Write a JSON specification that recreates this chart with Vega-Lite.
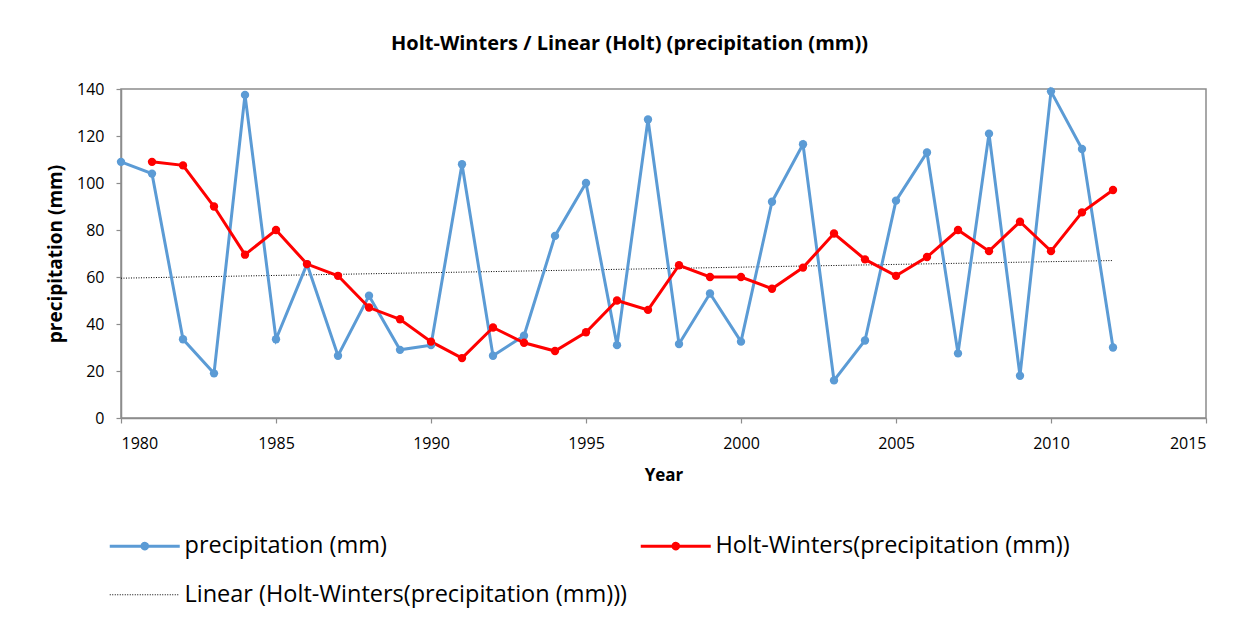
{
  "$schema": "https://vega.github.io/schema/vega-lite/v6.json",
  "width": 1085,
  "height": 329,
  "autosize": {"type": "none"},
  "padding": {"left": 121, "top": 89, "right": 53, "bottom": 209},
  "background": "white",
  "title": {
    "text": "Holt-Winters / Linear (Holt) (precipitation (mm))",
    "font": "Open Sans",
    "fontSize": 20,
    "fontWeight": "bold",
    "color": "#000000",
    "anchor": "middle",
    "dx": -34,
    "offset": 27
  },
  "config": {
    "view": {"stroke": "#8c8c8c", "strokeWidth": 1.5},
    "axis": {
      "labelFont": "Open Sans",
      "labelFontSize": 16,
      "labelColor": "#000000",
      "titleFont": "Open Sans",
      "titleFontWeight": "bold",
      "titleColor": "#000000",
      "domainColor": "#8c8c8c",
      "domainWidth": 1.5,
      "tickColor": "#8c8c8c",
      "tickWidth": 1.2,
      "tickSize": 5,
      "grid": false
    }
  },
  "data": {
    "values": [
      {"year": 1980, "value": 109, "series": "precipitation (mm)"},
      {"year": 1981, "value": 104, "series": "precipitation (mm)"},
      {"year": 1982, "value": 33.5, "series": "precipitation (mm)"},
      {"year": 1983, "value": 19, "series": "precipitation (mm)"},
      {"year": 1984, "value": 137.5, "series": "precipitation (mm)"},
      {"year": 1985, "value": 33.5, "series": "precipitation (mm)"},
      {"year": 1986, "value": 65.5, "series": "precipitation (mm)"},
      {"year": 1987, "value": 26.5, "series": "precipitation (mm)"},
      {"year": 1988, "value": 52, "series": "precipitation (mm)"},
      {"year": 1989, "value": 29, "series": "precipitation (mm)"},
      {"year": 1990, "value": 31, "series": "precipitation (mm)"},
      {"year": 1991, "value": 108, "series": "precipitation (mm)"},
      {"year": 1992, "value": 26.5, "series": "precipitation (mm)"},
      {"year": 1993, "value": 35, "series": "precipitation (mm)"},
      {"year": 1994, "value": 77.5, "series": "precipitation (mm)"},
      {"year": 1995, "value": 100, "series": "precipitation (mm)"},
      {"year": 1996, "value": 31, "series": "precipitation (mm)"},
      {"year": 1997, "value": 127, "series": "precipitation (mm)"},
      {"year": 1998, "value": 31.5, "series": "precipitation (mm)"},
      {"year": 1999, "value": 53, "series": "precipitation (mm)"},
      {"year": 2000, "value": 32.5, "series": "precipitation (mm)"},
      {"year": 2001, "value": 92, "series": "precipitation (mm)"},
      {"year": 2002, "value": 116.5, "series": "precipitation (mm)"},
      {"year": 2003, "value": 16, "series": "precipitation (mm)"},
      {"year": 2004, "value": 33, "series": "precipitation (mm)"},
      {"year": 2005, "value": 92.5, "series": "precipitation (mm)"},
      {"year": 2006, "value": 113, "series": "precipitation (mm)"},
      {"year": 2007, "value": 27.5, "series": "precipitation (mm)"},
      {"year": 2008, "value": 121, "series": "precipitation (mm)"},
      {"year": 2009, "value": 18, "series": "precipitation (mm)"},
      {"year": 2010, "value": 139, "series": "precipitation (mm)"},
      {"year": 2011, "value": 114.5, "series": "precipitation (mm)"},
      {"year": 2012, "value": 30, "series": "precipitation (mm)"},
      {"year": 1981, "value": 109, "series": "Holt-Winters(precipitation (mm))"},
      {"year": 1982, "value": 107.5, "series": "Holt-Winters(precipitation (mm))"},
      {"year": 1983, "value": 90, "series": "Holt-Winters(precipitation (mm))"},
      {"year": 1984, "value": 69.5, "series": "Holt-Winters(precipitation (mm))"},
      {"year": 1985, "value": 80, "series": "Holt-Winters(precipitation (mm))"},
      {"year": 1986, "value": 65.5, "series": "Holt-Winters(precipitation (mm))"},
      {"year": 1987, "value": 60.5, "series": "Holt-Winters(precipitation (mm))"},
      {"year": 1988, "value": 47, "series": "Holt-Winters(precipitation (mm))"},
      {"year": 1989, "value": 42, "series": "Holt-Winters(precipitation (mm))"},
      {"year": 1990, "value": 32.5, "series": "Holt-Winters(precipitation (mm))"},
      {"year": 1991, "value": 25.5, "series": "Holt-Winters(precipitation (mm))"},
      {"year": 1992, "value": 38.5, "series": "Holt-Winters(precipitation (mm))"},
      {"year": 1993, "value": 32, "series": "Holt-Winters(precipitation (mm))"},
      {"year": 1994, "value": 28.5, "series": "Holt-Winters(precipitation (mm))"},
      {"year": 1995, "value": 36.5, "series": "Holt-Winters(precipitation (mm))"},
      {"year": 1996, "value": 50, "series": "Holt-Winters(precipitation (mm))"},
      {"year": 1997, "value": 46, "series": "Holt-Winters(precipitation (mm))"},
      {"year": 1998, "value": 65, "series": "Holt-Winters(precipitation (mm))"},
      {"year": 1999, "value": 60, "series": "Holt-Winters(precipitation (mm))"},
      {"year": 2000, "value": 60, "series": "Holt-Winters(precipitation (mm))"},
      {"year": 2001, "value": 55, "series": "Holt-Winters(precipitation (mm))"},
      {"year": 2002, "value": 64, "series": "Holt-Winters(precipitation (mm))"},
      {"year": 2003, "value": 78.5, "series": "Holt-Winters(precipitation (mm))"},
      {"year": 2004, "value": 67.5, "series": "Holt-Winters(precipitation (mm))"},
      {"year": 2005, "value": 60.5, "series": "Holt-Winters(precipitation (mm))"},
      {"year": 2006, "value": 68.5, "series": "Holt-Winters(precipitation (mm))"},
      {"year": 2007, "value": 80, "series": "Holt-Winters(precipitation (mm))"},
      {"year": 2008, "value": 71, "series": "Holt-Winters(precipitation (mm))"},
      {"year": 2009, "value": 83.5, "series": "Holt-Winters(precipitation (mm))"},
      {"year": 2010, "value": 71, "series": "Holt-Winters(precipitation (mm))"},
      {"year": 2011, "value": 87.5, "series": "Holt-Winters(precipitation (mm))"},
      {"year": 2012, "value": 97, "series": "Holt-Winters(precipitation (mm))"},
      {"year": 1980, "value": 59.5, "series": "Linear (Holt-Winters(precipitation (mm)))"},
      {"year": 2012, "value": 67, "series": "Linear (Holt-Winters(precipitation (mm)))"}
    ]
  },
  "encoding": {
    "x": {
      "field": "year",
      "type": "quantitative",
      "scale": {"domain": [1980, 2015], "nice": false, "zero": false},
      "axis": {"values": [1980, 1985, 1990, 1995, 2000, 2005, 2010, 2015], "format": "d", "title": "Year", "titleFontSize": 17, "labelPadding": 12, "titlePadding": 16}
    },
    "y": {
      "field": "value",
      "type": "quantitative",
      "scale": {"domain": [0, 140], "nice": false},
      "axis": {"values": [0, 20, 40, 60, 80, 100, 120, 140], "title": "precipitation (mm)", "titleFontSize": 19, "labelPadding": 12, "titlePadding": 11}
    },
    "color": {
      "field": "series",
      "type": "nominal",
      "scale": {
        "domain": ["precipitation (mm)", "Linear (Holt-Winters(precipitation (mm)))", "Holt-Winters(precipitation (mm))"],
        "range": ["#5B9BD5", "#000000", "#FF0000"]
      },
      "legend": {
        "title": null,
        "orient": "none",
        "legendX": 12,
        "legendY": 445,
        "columns": 2,
        "columnPadding": 7,
        "rowPadding": 24,
        "labelFont": "Open Sans",
        "labelFontSize": 23.5,
        "labelColor": "#000000",
        "labelOffset": 28,
        "labelLimit": 600,
        "symbolSize": 4900,
        "encode": {
          "symbols": {
            "update": {
              "shape": {"signal": "datum.value === 'Linear (Holt-Winters(precipitation (mm)))' ? 'M-1,0L1,0' : 'M-1,0L1,0M0.08,0A0.08,0.08,0,1,1,-0.08,0A0.08,0.08,0,1,1,0.08,0'"},
              "fill": {"signal": "datum.value === 'Linear (Holt-Winters(precipitation (mm)))' ? 'transparent' : scale('color', datum.value)"},
              "strokeWidth": {"signal": "datum.value === 'Linear (Holt-Winters(precipitation (mm)))' ? 1 : 3"},
              "strokeDash": {"signal": "datum.value === 'Linear (Holt-Winters(precipitation (mm)))' ? [1, 1.5] : [1, 0]"},
              "opacity": {"value": 1}
            }
          }
        }
      }
    }
  },
  "layer": [
    {
      "transform": [{"filter": "datum.series === 'Linear (Holt-Winters(precipitation (mm)))'"}],
      "mark": {"type": "line", "strokeWidth": 1, "strokeDash": [1, 1.5]}
    },
    {
      "transform": [{"filter": "datum.series !== 'Linear (Holt-Winters(precipitation (mm)))'"}],
      "mark": {"type": "line", "strokeWidth": 3}
    },
    {
      "transform": [{"filter": "datum.series !== 'Linear (Holt-Winters(precipitation (mm)))'"}],
      "mark": {"type": "point", "filled": true, "shape": "circle", "size": 70, "opacity": 1}
    }
  ]
}
